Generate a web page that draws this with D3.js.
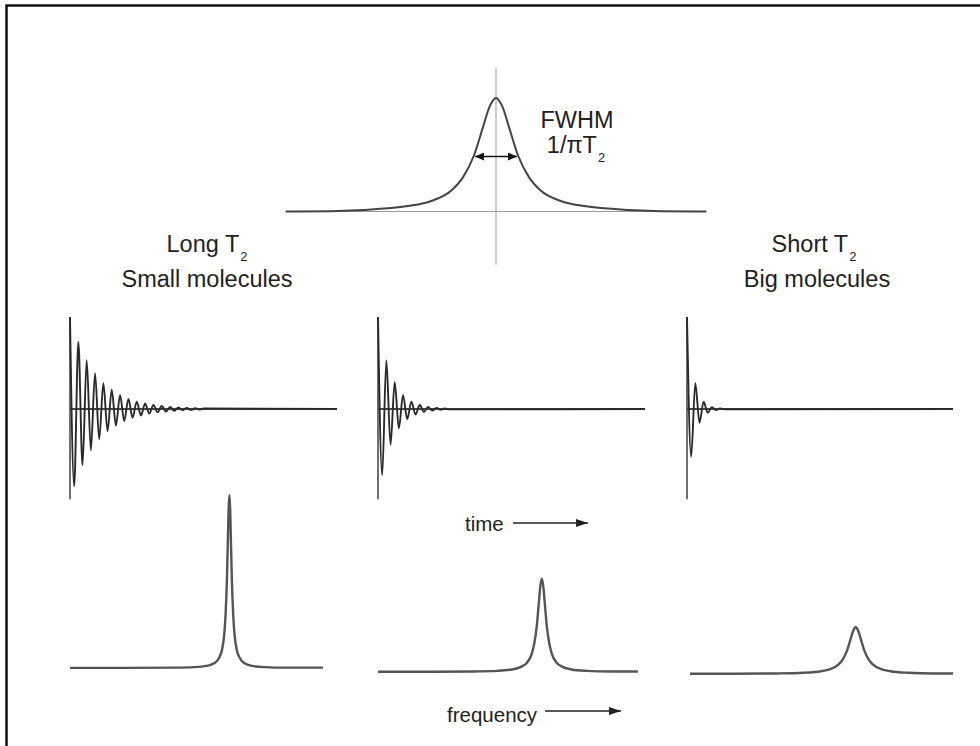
<!DOCTYPE html>
<html><head><meta charset="utf-8">
<script src="https://cdn.jsdelivr.net/npm/d3@7"></script>
<style>html,body{margin:0;padding:0;background:#fff;} svg{display:block;}</style>
</head><body>
<svg id="c" width="980" height="746"></svg>
<script>
// ================= DATA =================
// Free-induction decays: successive extrema (crest, trough, ...) in % of the first crest,
// one extremum every half cycle.
const fidExtremaLong = [100,-84,73,-61,53,-45,39,-33,28,-24,21,-18,15,-13,11,-9.5,8,-7,6,-5,4.3,-3.7,3.2,-2.7,2.3,-2,1.7,-1.4,1.2,-1,0.8,-0.6,0.5];
const fidExtremaMid  = [100,-72,53,-39,29,-21,15,-11,8,-6,4.4,-3.2,2.3,-1.7,1.2,-0.9,0.6,-0.4];
const fidExtremaShort= [100,-52,28,-15,8,-4,2,-1.1,0.6,-0.3];
const fidCyclesShown = 32;           // time axis length, in cycles

// Spectra (frequency domain): peak position (0-100), relative height, half width at half max
const specCenters    = [63, 63, 63];
const specHeights    = [1.0, 0.54, 0.27];
const specHalfWidths = [1.0, 1.9, 3.3];

// Top line shape: centre, height, half width (frequency units, axis -10..10)
const topCenter = 0, topHeight = 1, topHalfWidth = 1.05;

// Lorentzian line-shape profile read from the top peak: offset (in half widths) -> relative height
const profileOffsets = [0, 0.3, 0.6, 1, 1.5, 2, 3, 4, 6, 9, 14, 22, 40, 70];
const profileHeights = [1, 0.92, 0.74, 0.5, 0.31, 0.2, 0.1, 0.06, 0.027, 0.012, 0.005, 0.002, 0.0006, 0];

// Texts
const leftTitle  = ["Long T", "2", "Small molecules"];
const rightTitle = ["Short T", "2", "Big molecules"];
const fwhmLabel  = ["FWHM", "1/\u03c0T", "2"];
const timeLabel = "time";
const freqLabel = "frequency";

// ================= DRAWING =================
const svg = d3.select("#c");
const FONT = "'Liberation Sans', Arial, sans-serif";
const INK = "#222";

// frame
svg.append("rect").attr("x", 6.5).attr("y", 5.5).attr("width", 1100).attr("height", 900)
  .attr("fill", "none").attr("stroke", "#111").attr("stroke-width", 2.5);

// arrow markers
const defs = svg.append("defs");
defs.append("marker").attr("id", "ah").attr("viewBox", "0 0 12 8")
  .attr("refX", 12).attr("refY", 4).attr("markerWidth", 12).attr("markerHeight", 8)
  .attr("markerUnits", "userSpaceOnUse").attr("orient", "auto-start-reverse")
  .append("path").attr("d", "M0,0 L12,4 L0,8 z").attr("fill", INK);
defs.append("marker").attr("id", "ahs").attr("viewBox", "0 0 9 8")
  .attr("refX", 9).attr("refY", 4).attr("markerWidth", 9).attr("markerHeight", 8)
  .attr("markerUnits", "userSpaceOnUse").attr("orient", "auto-start-reverse")
  .append("path").attr("d", "M0,0 L9,4 L0,8 z").attr("fill", "#111");

// Lorentzian points from the read profile
function lineshapePoints(center, height, hw, domain) {
  const pts = [];
  profileOffsets.forEach((o, i) => {
    const h = height * profileHeights[i];
    [-1, 1].forEach(s => {
      if (o === 0 && s < 0) return;
      const f = center + s * o * hw;
      if (f >= domain[0] && f <= domain[1]) pts.push([f, h]);
    });
  });
  pts.sort((a, b) => a[0] - b[0]);
  pts.unshift([domain[0], pts[0][1]]);
  pts.push([domain[1], pts[pts.length - 1][1]]);
  return pts;
}

// ---- top panel ----
const xTop = d3.scaleLinear().domain([-10, 10]).range([286, 706]);
const yTop = d3.scaleLinear().domain([0, 1]).range([213, 98]);
const gTop = svg.append("g");
gTop.append("line").attr("x1", xTop(-10.05)).attr("x2", xTop(10.05))
  .attr("y1", yTop(0.013)).attr("y2", yTop(0.013)).attr("stroke", "#999").attr("stroke-width", 1);
gTop.append("line").attr("x1", xTop(topCenter)).attr("x2", xTop(topCenter))
  .attr("y1", yTop(1.26)).attr("y2", yTop(-0.45)).attr("stroke", "#999").attr("stroke-width", 1);
gTop.append("path")
  .datum(lineshapePoints(topCenter, topHeight, topHalfWidth, xTop.domain()))
  .attr("d", d3.line().x(d => xTop(d[0])).y(d => yTop(d[1])).curve(d3.curveMonotoneX))
  .attr("fill", "none").attr("stroke", "#444").attr("stroke-width", 2);
gTop.append("line")
  .attr("x1", xTop(topCenter - topHalfWidth) + 1).attr("x2", xTop(topCenter + topHalfWidth) - 1)
  .attr("y1", yTop(0.5) + 1).attr("y2", yTop(0.5) + 1)
  .attr("stroke", "#111").attr("stroke-width", 1.6)
  .attr("marker-start", "url(#ahs)").attr("marker-end", "url(#ahs)");

function subText(x, y, main, sub, size) {
  const t = svg.append("text").attr("x", x).attr("y", y).attr("text-anchor", "middle")
    .attr("font-family", FONT).attr("font-size", size).attr("fill", INK);
  t.append("tspan").text(main);
  t.append("tspan").attr("dx", 1).attr("dy", 9).attr("font-size", size * 0.55).text(sub);
  return t;
}
svg.append("text").attr("x", 577).attr("y", 128).attr("text-anchor", "middle")
  .attr("font-family", FONT).attr("font-size", 23.5).attr("fill", INK).text(fwhmLabel[0]);
subText(576, 153, fwhmLabel[1], fwhmLabel[2], 23.5);

subText(207, 252, leftTitle[0], leftTitle[1], 23.5);
svg.append("text").attr("x", 207).attr("y", 287).attr("text-anchor", "middle")
  .attr("font-family", FONT).attr("font-size", 23.5).attr("fill", INK).text(leftTitle[2]);
subText(814, 252, rightTitle[0], rightTitle[1], 23.5);
svg.append("text").attr("x", 817).attr("y", 287).attr("text-anchor", "middle")
  .attr("font-family", FONT).attr("font-size", 23.5).attr("fill", INK).text(rightTitle[2]);

// ---- FID panels ----
const fidSets = [fidExtremaLong, fidExtremaMid, fidExtremaShort];
const fidRanges = [[70, 337], [378, 645], [687, 953]];
const fidY = d3.scaleLinear().domain([-100, 100]).range([409 + 92, 409 - 92]);
fidSets.forEach((ext, i) => {
  const x = d3.scaleLinear().domain([0, fidCyclesShown]).range(fidRanges[i]);
  const pts = ext.map((a, k) => [k * 0.5, a]);
  pts.push([fidCyclesShown, 0]);
  const g = svg.append("g");
  g.append("line").attr("x1", x(0)).attr("x2", x(0)).attr("y1", fidY(100)).attr("y2", fidY(-98))
    .attr("stroke", "#333").attr("stroke-width", 1.4);
  g.append("line").attr("x1", x(0)).attr("x2", x(fidCyclesShown)).attr("y1", fidY(0)).attr("y2", fidY(0))
    .attr("stroke", "#444").attr("stroke-width", 1.8);
  g.append("path").datum(pts)
    .attr("d", d3.line().x(d => x(d[0])).y(d => fidY(d[1])).curve(d3.curveMonotoneX))
    .attr("fill", "none").attr("stroke", "#2a2a2a").attr("stroke-width", 1.9);
});

// ---- spectra ----
const specRanges = [[70, 323], [378, 638], [690, 953]];
const specBases = [668, 672, 674];
specCenters.forEach((c, i) => {
  const x = d3.scaleLinear().domain([0, 100]).range(specRanges[i]);
  const y = d3.scaleLinear().domain([0, 1]).range([specBases[i], specBases[i] - 173]);
  svg.append("path")
    .datum(lineshapePoints(c, specHeights[i], specHalfWidths[i], x.domain()))
    .attr("d", d3.line().x(d => x(d[0])).y(d => y(d[1])).curve(d3.curveMonotoneX))
    .attr("fill", "none").attr("stroke", "#555").attr("stroke-width", 2.4);
});

// ---- axis labels with arrows ----
svg.append("text").attr("x", 465).attr("y", 531).attr("font-family", FONT)
  .attr("font-size", 20.5).attr("fill", INK).text(timeLabel);
svg.append("line").attr("x1", 513).attr("x2", 588).attr("y1", 523).attr("y2", 523)
  .attr("stroke", INK).attr("stroke-width", 1.5).attr("marker-end", "url(#ah)");
svg.append("text").attr("x", 447).attr("y", 722).attr("font-family", FONT)
  .attr("font-size", 20.5).attr("fill", INK).text(freqLabel);
svg.append("line").attr("x1", 545).attr("x2", 621).attr("y1", 711).attr("y2", 711)
  .attr("stroke", INK).attr("stroke-width", 1.5).attr("marker-end", "url(#ah)");
</script>
</body></html>
